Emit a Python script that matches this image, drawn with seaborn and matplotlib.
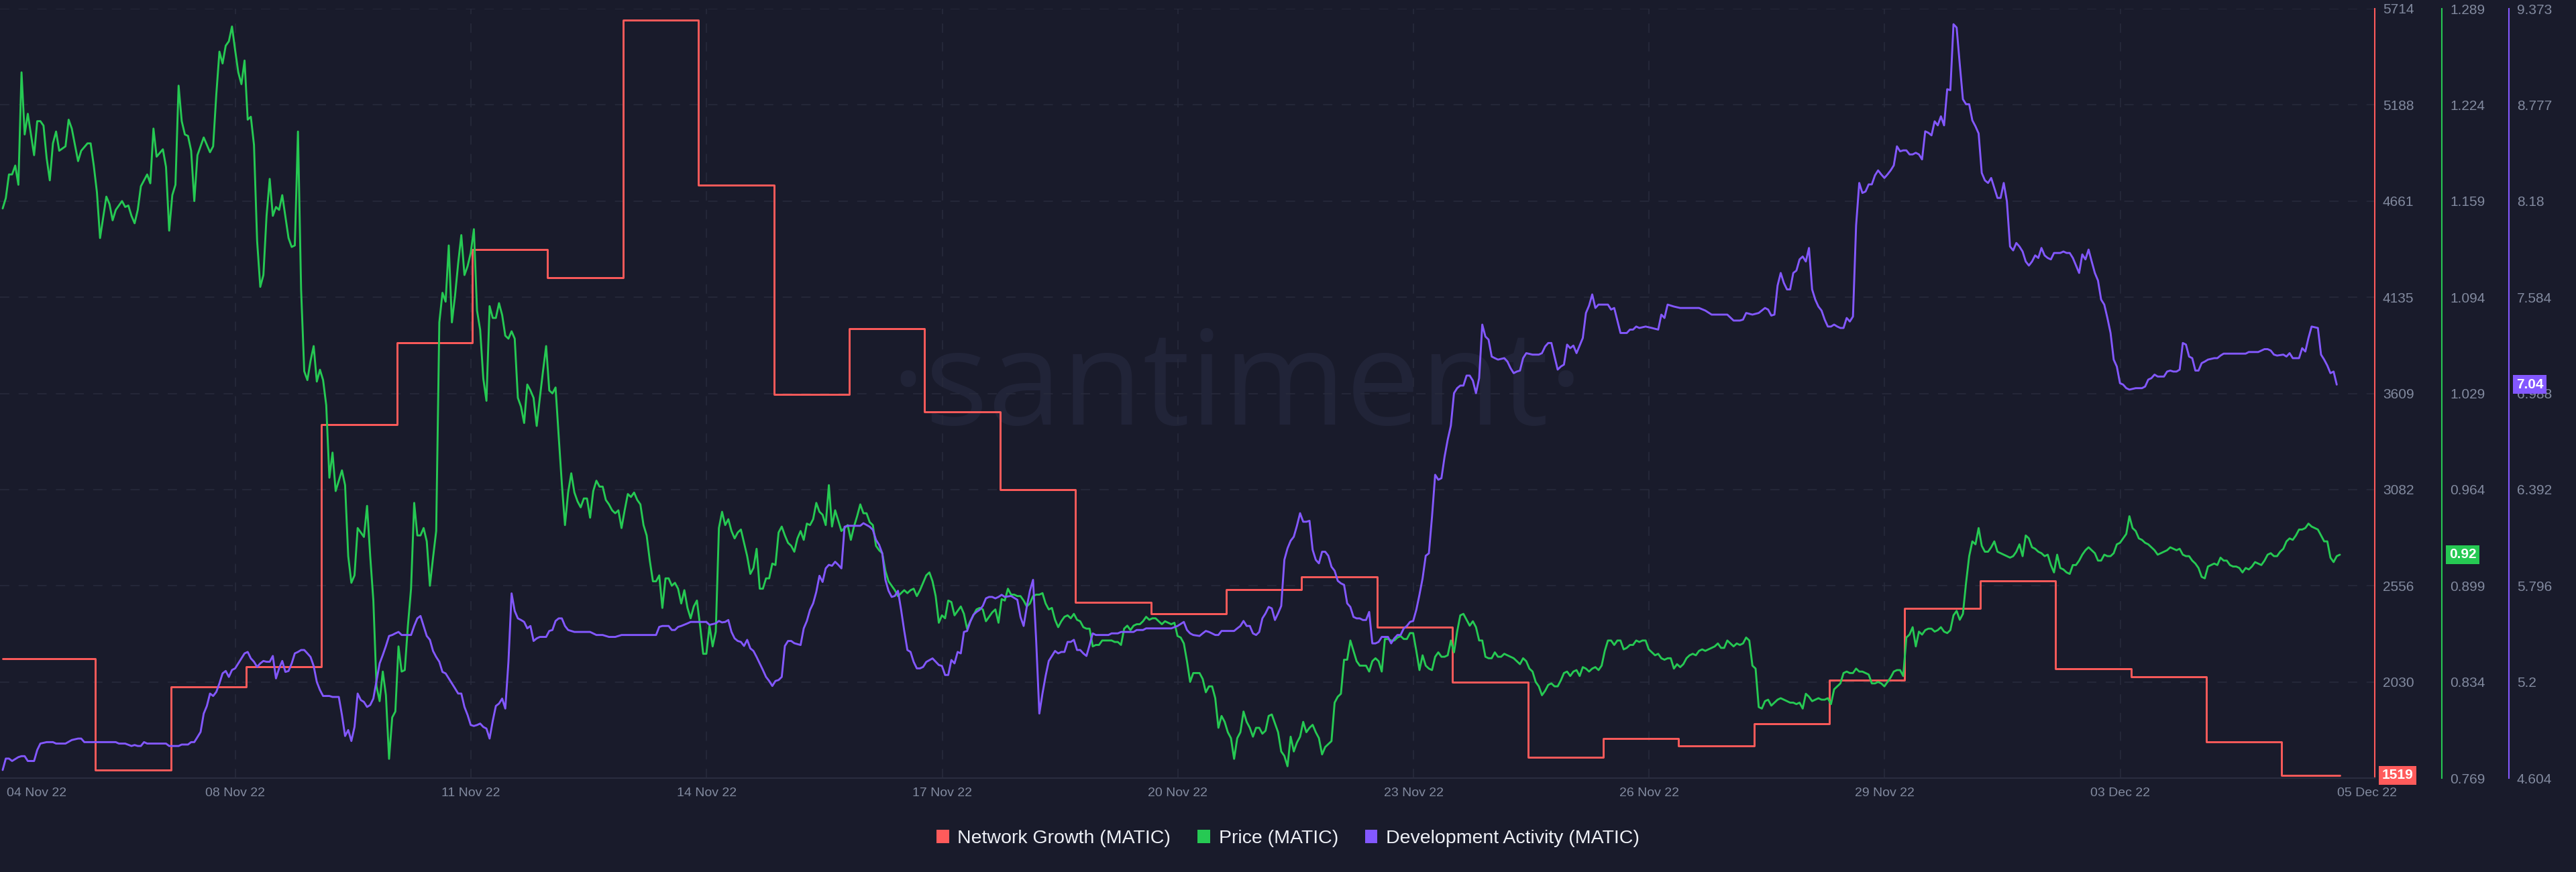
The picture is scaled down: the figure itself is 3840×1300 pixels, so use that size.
import numpy as np
import pandas as pd
import matplotlib
matplotlib.use("Agg")
import matplotlib.pyplot as plt
import matplotlib.dates as mdates
from matplotlib.patches import Patch
import seaborn as sns

# ---------------- data ----------------
START = pd.Timestamp("2022-11-04 22:00")   # first hourly sample

# Network Growth (daily values, held until the next change hour)
net_change_hours = [0, 29.5, 53.5, 77.5, 101.5, 125.5, 149.5, 173.5, 197.5, 221.5,
                    245.5, 269.5, 293.5, 317.5, 341.5, 365.5, 389.5, 413.5, 437.5, 461.5,
                    485.5, 509.5, 533.5, 557.5, 581.5, 605.5, 629.5, 653.5, 677.5, 701.5,
                    725.5]
net_values = [2158, 1547, 2002, 2111, 3437, 3884, 4396, 4240, 5651, 4747,
              3602, 3964, 3506, 3081, 2465, 2404, 2536, 2604, 2330, 2029,
              1618, 1719, 1678, 1802, 2040, 2432, 2583, 2103, 2056, 1700,
              1519]
net_end_hour = 744

# Price (hour offset, USD) - first days
price_early = [
    (0, 1.154), (1, 1.161), (2, 1.177), (3, 1.177), (4, 1.183), (5, 1.170), (6, 1.246), (7, 1.204), (8, 1.218),
    (10, 1.190), (11, 1.213), (12, 1.213), (13, 1.210), (14, 1.188), (15, 1.173), (16, 1.198), (17, 1.206), (18, 1.193),
    (20, 1.196), (21, 1.214), (22, 1.208), (24, 1.186), (25, 1.193),
    (27, 1.198), (28, 1.198), (29, 1.183), (30, 1.165), (31, 1.134),
    (33, 1.162), (34, 1.157), (35, 1.146), (36, 1.153),
    (38, 1.159), (39, 1.155), (40, 1.156), (41, 1.149), (42, 1.144), (43, 1.153), (44, 1.169),
    (46, 1.177), (47, 1.171), (48, 1.208), (49, 1.189),
    (51, 1.194), (52, 1.182), (53, 1.139), (54, 1.163), (55, 1.170), (56, 1.237), (57, 1.213), (58, 1.204),
    (59, 1.203), (60, 1.193), (61, 1.159), (62, 1.190), (64, 1.202),
    (66, 1.192), (67, 1.196), (68, 1.231), (69, 1.260), (70, 1.252), (71, 1.264), (72, 1.267), (73, 1.277),
    (74, 1.261), (75, 1.246), (76, 1.238), (77, 1.254), (78, 1.214), (79, 1.216), (80, 1.197), (81, 1.132),
    (82, 1.101), (83, 1.109), (84, 1.149), (85, 1.174), (86, 1.149), (87, 1.155), (88, 1.153), (89, 1.163),
    (91, 1.134), (92, 1.128), (93, 1.129), (94, 1.206), (95, 1.099), (96, 1.044), (97, 1.038), (98, 1.051),
    (99, 1.061), (100, 1.037), (101, 1.045), (102, 1.038), (103, 1.021), (104, 0.972), (105, 0.989), (106, 0.963),
    (108, 0.977), (109, 0.967), (110, 0.919), (111, 0.901), (112, 0.906), (113, 0.938),
    (115, 0.932), (116, 0.953), (117, 0.919), (118, 0.889), (119, 0.831), (120, 0.821), (121, 0.841),
    (122, 0.825), (123, 0.782), (124, 0.810), (125, 0.814), (126, 0.858),
]
# Price, hourly from hour 127 to hour 744
price_hourly_start = 127
price_hourly = [
    0.841, 0.842, 0.872, 0.897, 0.955, 0.933, 0.933, 0.938, 0.929, 0.899,
    0.918, 0.936, 1.077, 1.097, 1.091, 1.129, 1.077, 1.095, 1.117, 1.136,
    1.109, 1.115, 1.124, 1.140, 1.085, 1.072, 1.039, 1.024, 1.088, 1.080,
    1.080, 1.090, 1.082, 1.068, 1.066, 1.071, 1.066, 1.026, 1.020, 1.009,
    1.035, 1.031, 1.026, 1.007, 1.026, 1.044, 1.061, 1.031, 1.029, 1.033,
    1.000, 0.968, 0.940, 0.962, 0.975, 0.962, 0.956, 0.952, 0.958, 0.958,
    0.945, 0.963, 0.970, 0.966, 0.966, 0.957, 0.954, 0.950, 0.948, 0.950,
    0.938, 0.950, 0.961, 0.959, 0.962, 0.957, 0.954, 0.940, 0.933, 0.916,
    0.902, 0.902, 0.906, 0.884, 0.904, 0.904, 0.899, 0.901, 0.897, 0.887,
    0.896, 0.884, 0.877, 0.885, 0.889, 0.872, 0.853, 0.853, 0.872, 0.858,
    0.868, 0.938, 0.949, 0.940, 0.944, 0.936, 0.931, 0.935, 0.937, 0.928,
    0.919, 0.907, 0.911, 0.924, 0.897, 0.897, 0.904, 0.904, 0.914, 0.913,
    0.935, 0.939, 0.933, 0.928, 0.926, 0.922, 0.931, 0.936, 0.930, 0.941,
    0.940, 0.944, 0.955, 0.949, 0.947, 0.940, 0.967, 0.939, 0.950, 0.943,
    0.936, 0.938, 0.940, 0.930, 0.939, 0.946, 0.954, 0.948, 0.948, 0.942,
    0.940, 0.926, 0.923, 0.921, 0.909, 0.902, 0.899, 0.896, 0.892, 0.894,
    0.896, 0.894, 0.896, 0.897, 0.892, 0.896, 0.901, 0.906, 0.908, 0.902,
    0.892, 0.874, 0.879, 0.877, 0.889, 0.888, 0.879, 0.882, 0.885, 0.880,
    0.870, 0.875, 0.879, 0.883, 0.884, 0.883, 0.875, 0.878, 0.881, 0.883,
    0.874, 0.890, 0.889, 0.897, 0.893, 0.893, 0.892, 0.892, 0.889, 0.885,
    0.887, 0.892, 0.893, 0.893, 0.894, 0.887, 0.883, 0.884, 0.876, 0.871,
    0.875, 0.878, 0.879, 0.877, 0.880, 0.876, 0.875, 0.871, 0.870, 0.870,
    0.858, 0.859, 0.859, 0.862, 0.862, 0.862, 0.862, 0.861, 0.861, 0.859,
    0.870, 0.872, 0.869, 0.872, 0.873, 0.873, 0.875, 0.878, 0.876, 0.877,
    0.877, 0.875, 0.873, 0.875, 0.874, 0.873, 0.874, 0.865, 0.864, 0.860,
    0.848, 0.834, 0.840, 0.840, 0.840, 0.836, 0.827, 0.831, 0.831, 0.823,
    0.803, 0.811, 0.807, 0.800, 0.796, 0.782, 0.796, 0.800, 0.814, 0.807,
    0.803, 0.797, 0.803, 0.803, 0.799, 0.801, 0.811, 0.812, 0.806, 0.800,
    0.787, 0.784, 0.777, 0.797, 0.787, 0.793, 0.797, 0.807, 0.800, 0.803,
    0.805, 0.800, 0.796, 0.785, 0.790, 0.792, 0.794, 0.820, 0.824, 0.826,
    0.849, 0.849, 0.862, 0.855, 0.848, 0.845, 0.845, 0.845, 0.841, 0.848,
    0.850, 0.848, 0.841, 0.863, 0.863, 0.862, 0.862, 0.864, 0.865, 0.863,
    0.863, 0.867, 0.867, 0.855, 0.842, 0.852, 0.845, 0.843, 0.842, 0.851,
    0.854, 0.851, 0.851, 0.852, 0.862, 0.854, 0.868, 0.879, 0.880, 0.876,
    0.872, 0.875, 0.871, 0.862, 0.862, 0.851, 0.850, 0.850, 0.854, 0.851,
    0.851, 0.853, 0.852, 0.851, 0.850, 0.848, 0.846, 0.850, 0.848, 0.843,
    0.841, 0.834, 0.831, 0.825, 0.828, 0.832, 0.833, 0.831, 0.831, 0.835,
    0.840, 0.841, 0.838, 0.841, 0.842, 0.838, 0.844, 0.843, 0.841, 0.843,
    0.844, 0.842, 0.845, 0.855, 0.862, 0.862, 0.859, 0.862, 0.862, 0.856,
    0.857, 0.859, 0.859, 0.862, 0.861, 0.862, 0.862, 0.856, 0.854, 0.852,
    0.853, 0.850, 0.849, 0.850, 0.850, 0.843, 0.846, 0.844, 0.846, 0.850,
    0.852, 0.853, 0.852, 0.855, 0.856, 0.855, 0.856, 0.857, 0.858, 0.860,
    0.857, 0.857, 0.862, 0.860, 0.858, 0.860, 0.859, 0.860, 0.864, 0.862,
    0.845, 0.843, 0.817, 0.816, 0.821, 0.822, 0.818, 0.820, 0.822, 0.823,
    0.822, 0.821, 0.820, 0.820, 0.819, 0.820, 0.816, 0.826, 0.824, 0.821,
    0.822, 0.823, 0.822, 0.822, 0.823, 0.819, 0.829, 0.831, 0.833, 0.840,
    0.841, 0.840, 0.840, 0.843, 0.841, 0.841, 0.840, 0.839, 0.833, 0.833,
    0.834, 0.833, 0.831, 0.834, 0.837, 0.841, 0.842, 0.842, 0.838, 0.864,
    0.866, 0.871, 0.858, 0.868, 0.866, 0.869, 0.870, 0.870, 0.868, 0.869,
    0.871, 0.868, 0.867, 0.869, 0.879, 0.882, 0.876, 0.880, 0.901, 0.919,
    0.929, 0.927, 0.938, 0.926, 0.922, 0.922, 0.925, 0.929, 0.922, 0.921,
    0.920, 0.919, 0.918, 0.919, 0.922, 0.927, 0.919, 0.933, 0.931, 0.925,
    0.924, 0.922, 0.921, 0.919, 0.920, 0.913, 0.908, 0.920, 0.911, 0.910,
    0.908, 0.907, 0.913, 0.913, 0.916, 0.920, 0.923, 0.925, 0.923, 0.921,
    0.916, 0.916, 0.920, 0.919, 0.919, 0.921, 0.927, 0.928, 0.931, 0.934,
    0.946, 0.938, 0.936, 0.931, 0.930, 0.928, 0.927, 0.925, 0.923, 0.920,
    0.921, 0.922, 0.923, 0.925, 0.924, 0.923, 0.924, 0.920, 0.919, 0.919,
    0.916, 0.914, 0.911, 0.905, 0.904, 0.912, 0.913, 0.914, 0.913, 0.918,
    0.916, 0.916, 0.913, 0.912, 0.912, 0.911, 0.908, 0.911, 0.910, 0.912,
    0.915, 0.914, 0.913, 0.916, 0.920, 0.921, 0.919, 0.919, 0.922, 0.924,
    0.929, 0.931, 0.930, 0.933, 0.937, 0.937, 0.938, 0.941, 0.939, 0.938,
    0.937, 0.933, 0.929, 0.929, 0.918, 0.915, 0.919, 0.920,
]

# Development Activity (hour offset, value)
dev_points = [
    (0, 4.654), (1, 4.725), (2, 4.725), (3, 4.710), (5, 4.734), (6, 4.740), (7, 4.740), (8, 4.710), (10, 4.710),
    (11, 4.778), (12, 4.818), (14, 4.827), (16, 4.827), (17, 4.818), (20, 4.818), (22, 4.840), (24, 4.849),
    (25, 4.849), (26, 4.827), (28, 4.827), (36, 4.827), (37, 4.818), (39, 4.818), (41, 4.803), (42, 4.809),
    (43, 4.803), (44, 4.803), (45, 4.827), (46, 4.818), (52, 4.818), (53, 4.803), (56, 4.803), (57, 4.812),
    (59, 4.812), (60, 4.827), (61, 4.827), (62, 4.858), (63, 4.890), (64, 5.004), (65, 5.051), (66, 5.128),
    (67, 5.113), (68, 5.138), (69, 5.191), (70, 5.253), (71, 5.268), (72, 5.231), (73, 5.274), (74, 5.284),
    (75, 5.315), (76, 5.346), (77, 5.377), (78, 5.386), (79, 5.346), (80, 5.325), (81, 5.293), (82, 5.315),
    (83, 5.330), (84, 5.325), (85, 5.325), (86, 5.361), (87, 5.222), (88, 5.284), (89, 5.330), (90, 5.262),
    (91, 5.268), (92, 5.315), (93, 5.377), (94, 5.386), (95, 5.398), (96, 5.398), (97, 5.377), (98, 5.355),
    (99, 5.299), (100, 5.200), (101, 5.150), (102, 5.113), (104, 5.113), (105, 5.107), (107, 5.107), (108, 4.995),
    (109, 4.865), (110, 4.902), (111, 4.834), (112, 4.921), (113, 5.128), (114, 5.088), (115, 5.076), (116, 5.045),
    (117, 5.057), (118, 5.097), (119, 5.206), (120, 5.315), (121, 5.367), (122, 5.423), (123, 5.485), (124, 5.491),
    (125, 5.501), (126, 5.510), (127, 5.491), (130, 5.491), (131, 5.547), (132, 5.594), (133, 5.609), (134, 5.547),
    (135, 5.485), (136, 5.461), (137, 5.392), (138, 5.355), (139, 5.325), (140, 5.262), (141, 5.253), (142, 5.222),
    (143, 5.191), (144, 5.160), (145, 5.128), (146, 5.128), (147, 5.045), (148, 4.995), (149, 4.933), (150, 4.927),
    (151, 4.933), (152, 4.942), (153, 4.921), (154, 4.911), (155, 4.849), (156, 4.958), (157, 5.051), (158, 5.066),
    (159, 5.097), (160, 5.035), (161, 5.324), (162, 5.749), (163, 5.640), (164, 5.594), (165, 5.584), (166, 5.572),
    (167, 5.532), (168, 5.547), (169, 5.454), (170, 5.470), (171, 5.479), (173, 5.479), (174, 5.516), (175, 5.522),
    (176, 5.578), (177, 5.594), (178, 5.594), (179, 5.547), (180, 5.522), (182, 5.510), (187, 5.510), (189, 5.491),
    (191, 5.491), (193, 5.479), (195, 5.479), (197, 5.491), (208, 5.491), (209, 5.541), (210, 5.547), (212, 5.547),
    (213, 5.522), (214, 5.522), (215, 5.541), (216, 5.547), (218, 5.563), (219, 5.572), (224, 5.572), (225, 5.554),
    (227, 5.563), (228, 5.578), (229, 5.569), (230, 5.572), (231, 5.584), (232, 5.510), (233, 5.470), (234, 5.454),
    (235, 5.448), (236, 5.423), (237, 5.461), (238, 5.408), (239, 5.392), (240, 5.355), (241, 5.315), (242, 5.274),
    (243, 5.231), (244, 5.206), (245, 5.175), (246, 5.206), (247, 5.212), (248, 5.231), (249, 5.423), (250, 5.454),
    (251, 5.454), (252, 5.440), (254, 5.429), (255, 5.532), (256, 5.578), (257, 5.647), (258, 5.687), (259, 5.758),
    (260, 5.858), (261, 5.820), (262, 5.904), (263, 5.926), (264, 5.920), (265, 5.945), (266, 5.926), (267, 5.904),
    (268, 6.162), (269, 6.168), (273, 6.168), (274, 6.184), (276, 6.162), (277, 6.143), (278, 6.081), (279, 6.050),
    (280, 5.997), (281, 5.833), (282, 5.765), (283, 5.727), (284, 5.733), (285, 5.765), (286, 5.647), (287, 5.516),
    (288, 5.398), (289, 5.386), (290, 5.324), (291, 5.284), (292, 5.284), (293, 5.293), (294, 5.324), (296, 5.346),
    (298, 5.305), (299, 5.299), (300, 5.243), (301, 5.243), (302, 5.336), (303, 5.315), (304, 5.386), (305, 5.377),
    (306, 5.510), (307, 5.516), (308, 5.572), (309, 5.616), (310, 5.634), (311, 5.647), (312, 5.671), (313, 5.718),
    (314, 5.727), (315, 5.727), (316, 5.718), (317, 5.727), (318, 5.740), (319, 5.727), (321, 5.733), (323, 5.709),
    (324, 5.603), (325, 5.547), (326, 5.665), (327, 5.765), (328, 5.833), (329, 5.454), (330, 5.004), (331, 5.128),
    (332, 5.237), (333, 5.330), (334, 5.361), (335, 5.392), (336, 5.377), (337, 5.386), (338, 5.386), (339, 5.448),
    (340, 5.448), (341, 5.461), (342, 5.398), (343, 5.398), (344, 5.377), (345, 5.361), (346, 5.429), (347, 5.501),
    (348, 5.491), (352, 5.491), (353, 5.501), (355, 5.501), (356, 5.510), (360, 5.510), (361, 5.522), (363, 5.522),
    (364, 5.532), (372, 5.532), (374, 5.547), (376, 5.572), (377, 5.522), (378, 5.501), (379, 5.491), (381, 5.485),
    (382, 5.501), (383, 5.516), (384, 5.510), (386, 5.491), (387, 5.491), (388, 5.516), (392, 5.516), (393, 5.532),
    (394, 5.547), (395, 5.578), (396, 5.547), (397, 5.547), (398, 5.501), (399, 5.491), (400, 5.510), (401, 5.594),
    (402, 5.625), (403, 5.665), (404, 5.656), (405, 5.584), (406, 5.625), (407, 5.671), (408, 5.957), (409, 6.028),
    (410, 6.075), (411, 6.100), (412, 6.168), (413, 6.246), (414, 6.193), (415, 6.193), (416, 6.199), (417, 6.019),
    (418, 5.957), (419, 5.935), (420, 6.007), (421, 6.007), (422, 5.982), (423, 5.914), (424, 5.889), (425, 5.827),
    (426, 5.811), (427, 5.802), (428, 5.687), (429, 5.665), (430, 5.603), (431, 5.594), (432, 5.594), (433, 5.584),
    (434, 5.584), (435, 5.634), (436, 5.439), (437, 5.439), (438, 5.448), (439, 5.479), (441, 5.479), (442, 5.439),
    (443, 5.470), (444, 5.491), (445, 5.491), (446, 5.532), (447, 5.547), (448, 5.572), (449, 5.578), (450, 5.647),
    (451, 5.740), (452, 5.842), (453, 5.982), (454, 5.997), (455, 6.224), (456, 6.484), (457, 6.453), (458, 6.463),
    (459, 6.596), (460, 6.702), (461, 6.789), (462, 6.990), (463, 7.021), (464, 7.037), (465, 7.037), (466, 7.099),
    (467, 7.099), (468, 7.068), (469, 6.990), (470, 7.083), (471, 7.415), (472, 7.341), (473, 7.322), (474, 7.217),
    (475, 7.207), (476, 7.198), (478, 7.207), (479, 7.186), (480, 7.145), (481, 7.114), (482, 7.124), (483, 7.130),
    (484, 7.207), (485, 7.238), (487, 7.229), (489, 7.229), (490, 7.238), (491, 7.279), (492, 7.301), (493, 7.301),
    (494, 7.217), (495, 7.136), (496, 7.155), (497, 7.167), (498, 7.291), (499, 7.269), (500, 7.285), (501, 7.238),
    (502, 7.285), (503, 7.332), (504, 7.487), (505, 7.533), (506, 7.602), (507, 7.518), (508, 7.539), (511, 7.539),
    (512, 7.508), (513, 7.518), (514, 7.440), (515, 7.363), (517, 7.363), (518, 7.384), (519, 7.384), (520, 7.403),
    (521, 7.394), (523, 7.403), (525, 7.394), (527, 7.384), (528, 7.477), (529, 7.456), (530, 7.539), (532, 7.527),
    (534, 7.518), (540, 7.518), (542, 7.502), (544, 7.477), (549, 7.477), (551, 7.440), (553, 7.440), (554, 7.446),
    (555, 7.487), (557, 7.477), (559, 7.487), (561, 7.518), (562, 7.508), (563, 7.471), (564, 7.477), (565, 7.657),
    (566, 7.735), (567, 7.673), (568, 7.633), (569, 7.633), (570, 7.735), (571, 7.750), (572, 7.819), (573, 7.837),
    (574, 7.806), (575, 7.890), (576, 7.633), (577, 7.570), (578, 7.527), (579, 7.502), (580, 7.446), (581, 7.403),
    (582, 7.403), (583, 7.415), (584, 7.403), (585, 7.394), (586, 7.394), (587, 7.456), (588, 7.434), (589, 7.465),
    (590, 8.030), (591, 8.293), (592, 8.231), (593, 8.240), (594, 8.284), (595, 8.284), (596, 8.340), (597, 8.371),
    (598, 8.346), (599, 8.324), (600, 8.346), (601, 8.371), (602, 8.402), (603, 8.520), (604, 8.489), (605, 8.495),
    (606, 8.495), (607, 8.470), (608, 8.470), (609, 8.480), (610, 8.470), (611, 8.439), (612, 8.613), (613, 8.604),
    (614, 8.588), (615, 8.675), (616, 8.650), (617, 8.706), (618, 8.650), (619, 8.874), (620, 8.868), (621, 9.277),
    (622, 9.256), (623, 9.029), (624, 8.812), (625, 8.781), (626, 8.781), (627, 8.681), (628, 8.644), (629, 8.600),
    (630, 8.355), (631, 8.309), (632, 8.293), (633, 8.324), (634, 8.262), (635, 8.200), (636, 8.200), (637, 8.293),
    (638, 8.179), (639, 7.899), (640, 7.875), (641, 7.921), (642, 7.899), (643, 7.868), (644, 7.806), (645, 7.781),
    (646, 7.806), (647, 7.844), (648, 7.828), (649, 7.890), (650, 7.844), (651, 7.828), (652, 7.819), (653, 7.859),
    (655, 7.859), (656, 7.868), (657, 7.859), (658, 7.859), (659, 7.828), (660, 7.781), (661, 7.735), (662, 7.850),
    (663, 7.819), (664, 7.880), (665, 7.806), (666, 7.735), (667, 7.688), (668, 7.570), (669, 7.539), (670, 7.456),
    (671, 7.363), (672, 7.198), (673, 7.155), (674, 7.052), (675, 7.043), (676, 7.021), (677, 7.012), (679, 7.021),
    (681, 7.021), (682, 7.031), (683, 7.074), (684, 7.083), (685, 7.105), (686, 7.093), (688, 7.093), (689, 7.124),
    (690, 7.130), (691, 7.124), (692, 7.124), (693, 7.136), (694, 7.301), (695, 7.291), (696, 7.217), (697, 7.207),
    (698, 7.130), (699, 7.130), (700, 7.176), (701, 7.186), (702, 7.198), (704, 7.207), (705, 7.207), (706, 7.223),
    (707, 7.235), (714, 7.235), (715, 7.245), (718, 7.245), (719, 7.254), (720, 7.263), (721, 7.263), (722, 7.254),
    (723, 7.229), (724, 7.223), (726, 7.229), (727, 7.217), (728, 7.238), (729, 7.207), (731, 7.207), (732, 7.269),
    (733, 7.248), (734, 7.332), (735, 7.403), (737, 7.394), (738, 7.229), (739, 7.198), (740, 7.161), (741, 7.114),
    (742, 7.124), (743, 7.043),
]

# axis ranges and tick labels (9 evenly spaced ticks on each scale)
net_range = (1503, 5714)
price_range = (0.769, 1.289)
dev_range = (4.604, 9.373)
net_ticklabels = ["1503", "2030", "2556", "3082", "3609", "4135", "4661", "5188", "5714"]
price_ticklabels = ["0.769", "0.834", "0.899", "0.964", "1.029", "1.094", "1.159", "1.224", "1.289"]
dev_ticklabels = ["4.604", "5.2", "5.796", "6.392", "6.988", "7.584", "8.18", "8.777", "9.373"]

date_ticks = pd.date_range("2022-11-08 00:06", periods=9, freq="75h")
edge_labels = ("04 Nov 22", "05 Dec 22")
legend_labels = ["Network Growth (MATIC)", "Price (MATIC)", "Development Activity (MATIC)"]

# ---------------- style ----------------
BG = "#191b2b"
GRID = "#282b3d"
AXLINE = "#2a2d3f"
TICK = "#828a9f"
RED = "#ff5b5b"
GREEN = "#26c953"
PURPLE = "#8358ff"
LEGEND_TXT = "#eef0f6"
WATERMARK = "#212438"

sns.set_style("dark", {"axes.facecolor": BG, "figure.facecolor": BG})
plt.rcParams["font.family"] = ["Liberation Sans", "DejaVu Sans"]
plt.rcParams["lines.scale_dashes"] = False


def to_time(hours):
    return START + pd.to_timedelta(np.asarray(hours, dtype=float), unit="h")


df_net = pd.DataFrame({
    "time": to_time(net_change_hours + [net_end_hour]),
    "value": net_values + [net_values[-1]],
})
p_early = pd.DataFrame(price_early, columns=["hour", "value"])
p_late = pd.DataFrame({"hour": np.arange(price_hourly_start, price_hourly_start + len(price_hourly)),
                       "value": price_hourly})
df_price = pd.concat([p_early, p_late], ignore_index=True)
df_price["time"] = to_time(df_price["hour"])
df_dev = pd.DataFrame(dev_points, columns=["hour", "value"])
df_dev["time"] = to_time(df_dev["hour"])

W, H = 3840, 1300
fig = plt.figure(figsize=(W / 100, H / 100), dpi=100, facecolor=BG)
plot_left, plot_right, plot_top, plot_bottom = 0, 3540, 13, 1160
ax = fig.add_axes([plot_left / W, 1 - plot_bottom / H, (plot_right - plot_left) / W,
                   (plot_bottom - plot_top) / H])
ax.set_facecolor(BG)
ax2 = ax.twinx()
ax3 = ax.twinx()

LW = 2.1
sns.lineplot(data=df_net, x="time", y="value", ax=ax, color=RED, linewidth=LW,
             drawstyle="steps-post", estimator=None, legend=False, zorder=3)
sns.lineplot(data=df_price, x="time", y="value", ax=ax2, color=GREEN, linewidth=LW,
             estimator=None, legend=False, zorder=3)
sns.lineplot(data=df_dev, x="time", y="value", ax=ax3, color=PURPLE, linewidth=LW,
             estimator=None, legend=False, zorder=3)

xmin, xmax = to_time([-0.85, 755.1])
ax.set_xlim(xmin, xmax)

YT = 15
for a, rng, labels, col, offset in ((ax, net_range, net_ticklabels, RED, 0),
                                    (ax2, price_range, price_ticklabels, GREEN, 72),
                                    (ax3, dev_range, dev_ticklabels, PURPLE, 144)):
    a.set_ylim(*rng)
    a.set_yticks(np.linspace(rng[0], rng[1], 9))
    a.set_yticklabels(labels)
    a.set_ylabel("")
    a.set_xlabel("")
    for s in ("left", "top"):
        a.spines[s].set_visible(False)
    a.spines["right"].set_visible(True)
    a.spines["right"].set_color(col)
    a.spines["right"].set_linewidth(1.5)
    a.spines["right"].set_position(("outward", offset))
    a.yaxis.tick_right()
    a.tick_params(axis="y", which="both", length=0, pad=8.6, labelcolor=TICK, labelsize=YT,
                  left=False, right=False, labelleft=False, labelright=True)
    if a is not ax:
        a.spines["bottom"].set_visible(False)
        a.grid(False)

ax.spines["bottom"].set_visible(True)
ax.spines["bottom"].set_color(AXLINE)
ax.spines["bottom"].set_linewidth(1.6)

XT = 14
ax.set_xticks(mdates.date2num(date_ticks))
ax.xaxis.set_major_formatter(mdates.DateFormatter("%d %b %y"))
ax.tick_params(axis="x", length=0, pad=10, labelcolor=TICK, labelsize=XT)
ax.grid(True, axis="both", color=GRID, linewidth=1.1, linestyle=(0, (10, 10)))
ax.set_axisbelow(True)

# edge date labels
ax.annotate(edge_labels[0], xy=(0, 0), xycoords="axes fraction", xytext=(7, -10),
            textcoords="offset points", ha="left", va="top", color=TICK, fontsize=XT)
ax.annotate(edge_labels[1], xy=(3529 / 3540, 0), xycoords="axes fraction", xytext=(0, -10),
            textcoords="offset points", ha="center", va="top", color=TICK, fontsize=XT,
            annotation_clip=False)

# watermark
ax.text(0.521, 0.4595, "·santiment·", transform=ax.transAxes, ha="center", va="baseline",
        fontsize=142, color=WATERMARK, family=["Open Sans", "DejaVu Sans"], zorder=0.5)

# last-value badges
badges = [
    (ax, net_values[-1], f"{net_values[-1]}", RED, 7.9),
    (ax2, df_price["value"].iloc[-1], f"{df_price['value'].iloc[-1]:.2f}", GREEN, 79.9),
    (ax3, df_dev["value"].iloc[-1], f"{df_dev['value'].iloc[-1]:.2f}", PURPLE, 151.9),
]
for a, val, txt, col, off in badges:
    a.annotate(txt, xy=(1, val), xycoords=("axes fraction", "data"), xytext=(off, 0),
               textcoords="offset points", ha="left", va="center", color="white",
               fontsize=15, fontweight="bold", annotation_clip=False, zorder=10,
               bbox=dict(boxstyle="square,pad=0.22", fc=col, ec="none"))

handles = [Patch(facecolor=c, edgecolor="none", label=l)
           for c, l in zip((RED, GREEN, PURPLE), legend_labels)]
fig.legend(handles=handles, loc="center", bbox_to_anchor=(0.5, 1 - 1250 / H), ncol=3,
           frameon=False, fontsize=20.5, labelcolor=LEGEND_TXT, handlelength=0.65,
           handleheight=0.65, handletextpad=0.45, columnspacing=1.4)

fig.savefig("out.png", dpi=100, facecolor=BG)
